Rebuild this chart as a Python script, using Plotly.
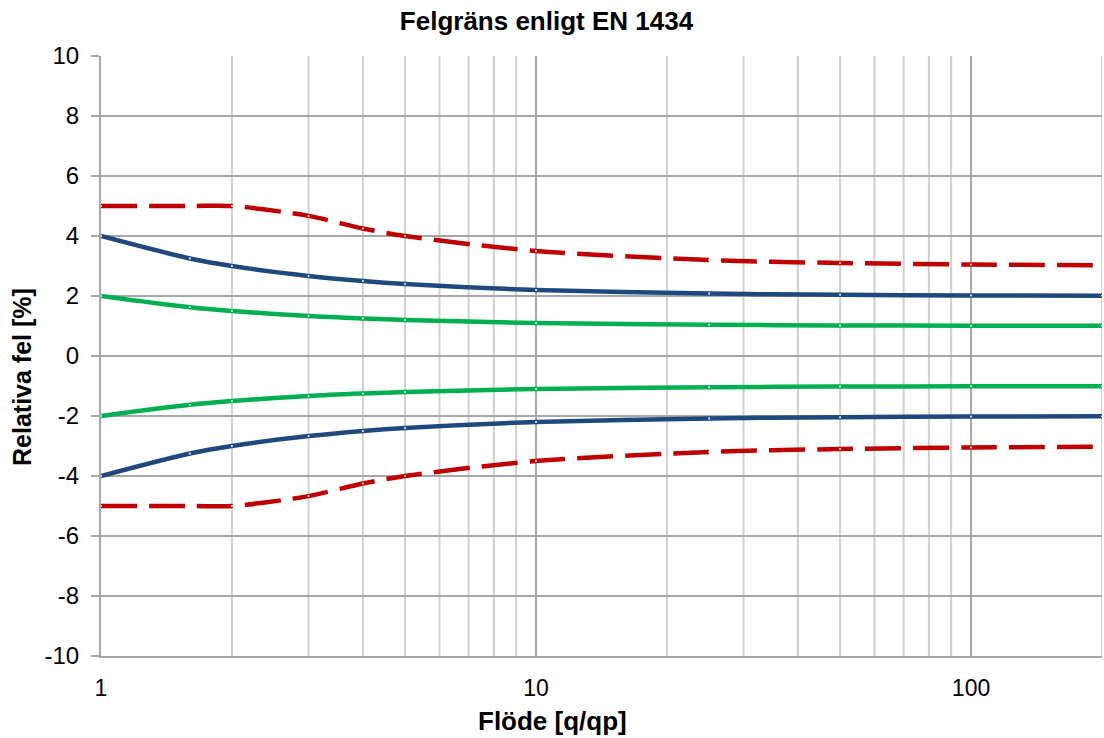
import plotly.graph_objects as go

flow = [1, 1.6, 2, 3, 4, 5, 10, 25, 50, 100, 200]
red_upper = [5, 5, 5, 4.67, 4.25, 4.0, 3.5, 3.2, 3.1, 3.05, 3.025]
blue_upper = [4, 3.25, 3.0, 2.67, 2.5, 2.4, 2.2, 2.08, 2.04, 2.02, 2.01]
green_upper = [2, 1.625, 1.5, 1.33, 1.25, 1.2, 1.1, 1.04, 1.02, 1.01, 1.005]
red_lower = [-v for v in red_upper]
blue_lower = [-v for v in blue_upper]
green_lower = [-v for v in green_upper]

y_ticks = [-10, -8, -6, -4, -2, 0, 2, 4, 6, 8, 10]
y_labels = [str(v) for v in y_ticks]
x_major = [1, 10, 100]
x_minor = [2, 3, 4, 5, 6, 7, 8, 9, 20, 30, 40, 50, 60, 70, 80, 90, 200]

RED = "#C00000"
BLUE = "#1F497D"
GREEN = "#00B050"
FONT = "Liberation Sans, Arial, sans-serif"

W, H = 1104, 738
L, R, T, B = 101, 2, 56, 82
PW, PH = W - L - R, H - T - B

fig = go.Figure()

for xv in x_minor:
    fig.add_shape(type="line", xref="x", yref="paper", x0=xv, x1=xv, y0=0, y1=1,
                  line=dict(color="#D0D0D0", width=2), layer="below")
for xv in x_major[1:]:
    fig.add_shape(type="line", xref="x", yref="paper", x0=xv, x1=xv, y0=0, y1=1,
                  line=dict(color="#A6A6A6", width=2), layer="below")

def add(y, color, dash=None):
    fig.add_trace(go.Scatter(
        x=flow, y=y, mode="lines+markers",
        line=dict(color=color, width=4.5, shape="spline", smoothing=0.8, dash=dash),
        marker=dict(size=2, color="white"),
        showlegend=False, hoverinfo="skip"))

add(red_upper, RED, "36px,12px")
add(blue_upper, BLUE)
add(green_upper, GREEN)
add(green_lower, GREEN)
add(blue_lower, BLUE)
add(red_lower, RED, "36px,12px")

# axis titles (centred on the figure, as in the reference)
fig.add_annotation(text="<b>Flöde [q/qp]</b>", xref="paper", yref="paper",
                   x=(552 - L) / PW, y=(H - B - 721) / PH, xanchor="center",
                   yanchor="middle", showarrow=False,
                   font=dict(family=FONT, size=26, color="black"))
fig.add_annotation(text="<b>Relativa fel [%]</b>", xref="paper", yref="paper",
                   x=(22 - L) / PW, y=(H - B - 377) / PH, xanchor="center",
                   yanchor="middle", textangle=-90, showarrow=False,
                   font=dict(family=FONT, size=25, color="black"))

fig.update_layout(
    width=W, height=H,
    margin=dict(l=L, r=R, t=T, b=B, autoexpand=False),
    paper_bgcolor="white", plot_bgcolor="white",
    font=dict(family=FONT, size=23, color="black"),
    title=dict(text="<b>Felgräns enligt EN 1434</b>", x=0.495, xref="container",
               xanchor="center", y=1 - 21 / H, yref="container", yanchor="middle",
               font=dict(family=FONT, size=26, color="black")),
    xaxis=dict(type="log", range=[0, 2.30103], tickvals=x_major,
               ticktext=[str(v) for v in x_major], showgrid=False,
               zeroline=False, showline=True, linecolor="#A6A6A6", linewidth=2,
               ticks="", ticklabelstandoff=10, automargin=False,
               tickfont=dict(family=FONT, size=23)),
    yaxis=dict(range=[-10, 10], tickvals=y_ticks, ticktext=y_labels,
               showgrid=True, gridcolor="#A6A6A6", gridwidth=2,
               zeroline=False, showline=True, linecolor="#A6A6A6", linewidth=2,
               ticks="outside", ticklen=8, tickcolor="#A6A6A6", tickwidth=2,
               ticklabelstandoff=7, automargin=False,
               tickfont=dict(family=FONT, size=24)),
)

fig.write_html("out.html", config={"displayModeBar": False},
               post_script="document.body.style.margin='0';document.body.style.overflow='hidden';")
